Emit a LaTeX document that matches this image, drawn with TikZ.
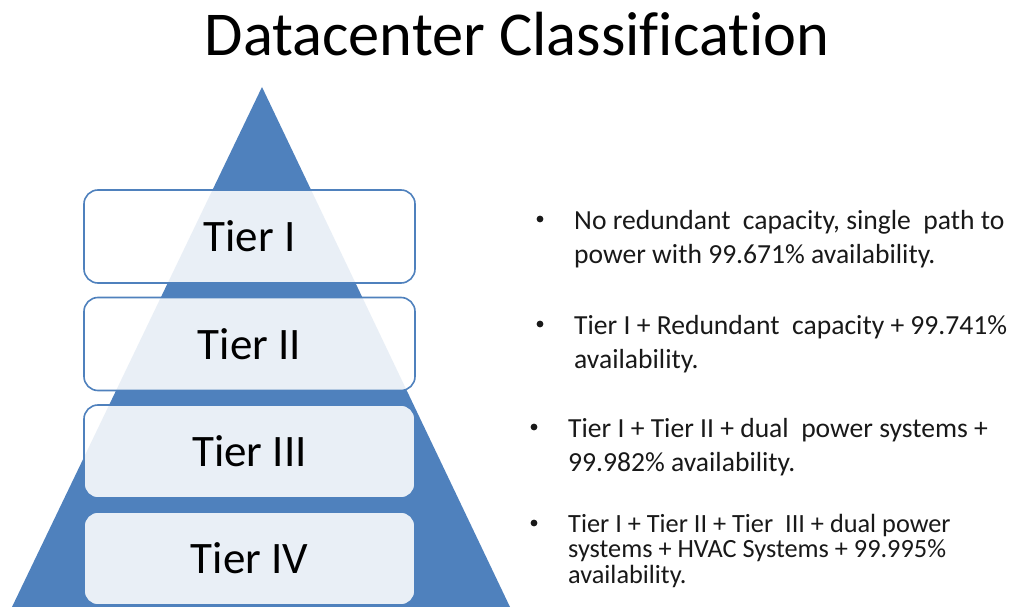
\documentclass[tikz,border=0pt]{standalone}
\usepackage{fontspec}
\setmainfont[Ligatures=NoCommon]{Carlito}
\definecolor{tri}{RGB}{79,129,189}
\definecolor{txt}{RGB}{25,25,25}
\begin{document}
\begin{tikzpicture}[x=1pt,y=-1pt,
  tierbox/.style={draw=tri, line width=1.6pt, rounded corners=14pt, fill=white,
    fill opacity=0.88, text opacity=1, minimum width=331pt, minimum height=93pt,
    inner sep=0pt, font=\fontsize{45}{54}\selectfont, text=black},
  bultext/.style={anchor=base west, align=left, inner sep=0pt,
    font=\fontsize{27.6}{34}\selectfont, text=txt},
  bulsmall/.style={bultext, font=\fontsize{26.3}{25.5}\selectfont},
  dot/.style={circle, fill=txt, inner sep=0pt, minimum size=6.8pt}]
\useasboundingbox (0,0) rectangle (1018,607);
\fill[white] (0,0) rectangle (1018,607);
\node[anchor=base, inner sep=0pt, font=\fontsize{62.4}{70}\selectfont, text=black] (title) at (517,56) {Datacenter Classification};
\fill[tri] (262,87) -- (510,607) -- (12,607) -- cycle;
\node[tierbox] (t1) at (249.5,236.5) {Tier I};
\node[tierbox] (t2) at (249.5,344) {Tier II};
\node[tierbox] (t3) at (249.5,451.5) {Tier III};
\node[tierbox] (t4) at (249.5,558.5) {Tier IV};
% bullet text nodes are anchored at the baseline of their last line
\node[dot] (d1) at (540,219) {};
\node[bultext] (b1) at (574,263) {No redundant\ \ capacity, single\ \ path to\\power with 99.671\% availability.};
\node[dot] (d2) at (540,324) {};
\node[bultext] (b2) at (574,368) {Tier I + Redundant\ \ capacity + 99.741\%\\availability.};
\node[dot] (d3) at (534,427) {};
\node[bultext] (b3) at (568,471) {Tier I + Tier II + dual\ \ power systems +\\99.982\% availability.};
\node[dot] (d4) at (534,523) {};
\node[bulsmall] (b4) at (568,583) {Tier I + Tier II + Tier\ \ III + dual power\\systems + HVAC Systems + 99.995\%\\availability.};
\end{tikzpicture}
\end{document}
